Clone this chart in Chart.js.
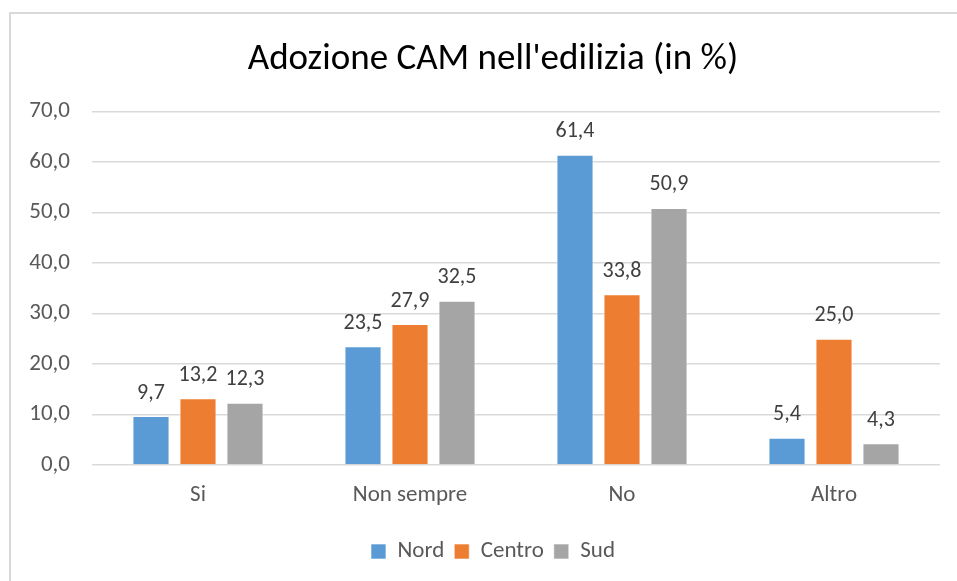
<!DOCTYPE html>
<html>
<head>
<meta charset="utf-8">
<script src="https://cdn.jsdelivr.net/npm/chart.js@4/dist/chart.umd.min.js"></script>
<style>
  html, body { margin: 0; padding: 0; background: #fff; overflow: hidden; }
  #frame { position: absolute; left: 9px; top: 12px; width: 990px; height: 580px; border: 2px solid #d9d9d9; box-sizing: border-box; }
  #wrap { position: absolute; left: 0; top: 0; width: 976px; height: 581px; }
</style>
</head>
<body>
<div id="frame"></div>
<div id="wrap"><canvas id="chart" width="976" height="581"></canvas></div>
<script>
const categories = ['Si', 'Non sempre', 'No', 'Altro'];
const nord   = [9.7, 23.5, 61.4, 5.4];
const centro = [13.2, 27.9, 33.8, 25.0];
const sud    = [12.3, 32.5, 50.9, 4.3];

const FONT = 'Carlito, Lato, "Open Sans", sans-serif';
const fmt = v => v.toFixed(1).replace('.', ',');

// etichette dei valori sopra le barre
const valueLabels = {
    id: 'valueLabels',
    afterDatasetsDraw(chart) {
        const c = chart.ctx;
        c.save();
        c.font = '22px ' + FONT;
        c.fillStyle = '#404040';
        c.textAlign = 'center';
        c.textBaseline = 'middle';
        chart.data.datasets.forEach((ds, i) => {
            chart.getDatasetMeta(i).data.forEach((bar, j) => {
                c.fillText(fmt(ds.data[j]), bar.x, bar.y - 23);
            });
        });
        c.restore();
    }
};

const ctx = document.getElementById('chart').getContext('2d');
new Chart(ctx, {
    type: 'bar',
    data: {
        labels: categories,
        datasets: [
            { label: 'Nord',   data: nord,   backgroundColor: '#5B9BD5' },
            { label: 'Centro', data: centro, backgroundColor: '#ED7D31' },
            { label: 'Sud',    data: sud,    backgroundColor: '#A5A5A5' }
        ].map(d => Object.assign(d, {
            borderColor: 'rgba(255,255,255,0.6)',
            borderWidth: 1,
            barPercentage: 0.79,
            categoryPercentage: 0.665
        }))
    },
    options: {
        responsive: false,
        animation: false,
        layout: { padding: { left: 10, right: 0, top: 0, bottom: 8 } },
        scales: {
            x: {
                grid: { display: false, drawTicks: false },
                border: { display: false },
                ticks: { color: '#595959', font: { family: FONT, size: 23 }, padding: 16 },
                afterFit(scale) { scale.height = 65; }
            },
            y: {
                min: 0,
                max: 70,
                grid: { color: '#d9d9d9', lineWidth: 1.5, drawTicks: false },
                border: { display: false },
                ticks: {
                    stepSize: 10,
                    color: '#595959',
                    font: { family: FONT, size: 23 },
                    padding: 22,
                    callback: v => fmt(v)
                },
                afterFit(scale) { scale.width = 82; }
            },
            // asse vuoto a destra: sposta titolo e legenda verso il centro del riquadro
            yRight: {
                position: 'right',
                display: true,
                min: 0,
                max: 70,
                grid: { display: false, drawTicks: false },
                border: { display: false },
                ticks: { display: false },
                afterFit(scale) { scale.width = 36; }
            }
        },
        plugins: {
            title: {
                display: true,
                text: "Adozione CAM nell'edilizia (in %)",
                color: '#000',
                font: { family: FONT, size: 37, weight: 'normal' },
                padding: { top: 38, bottom: 29 }
            },
            legend: {
                position: 'bottom',
                labels: {
                    color: '#595959',
                    font: { family: FONT, size: 23 },
                    boxWidth: 15,
                    boxHeight: 15,
                    padding: 10
                }
            },
            tooltip: { enabled: false }
        }
    },
    plugins: [valueLabels]
});
</script>
</body>
</html>
